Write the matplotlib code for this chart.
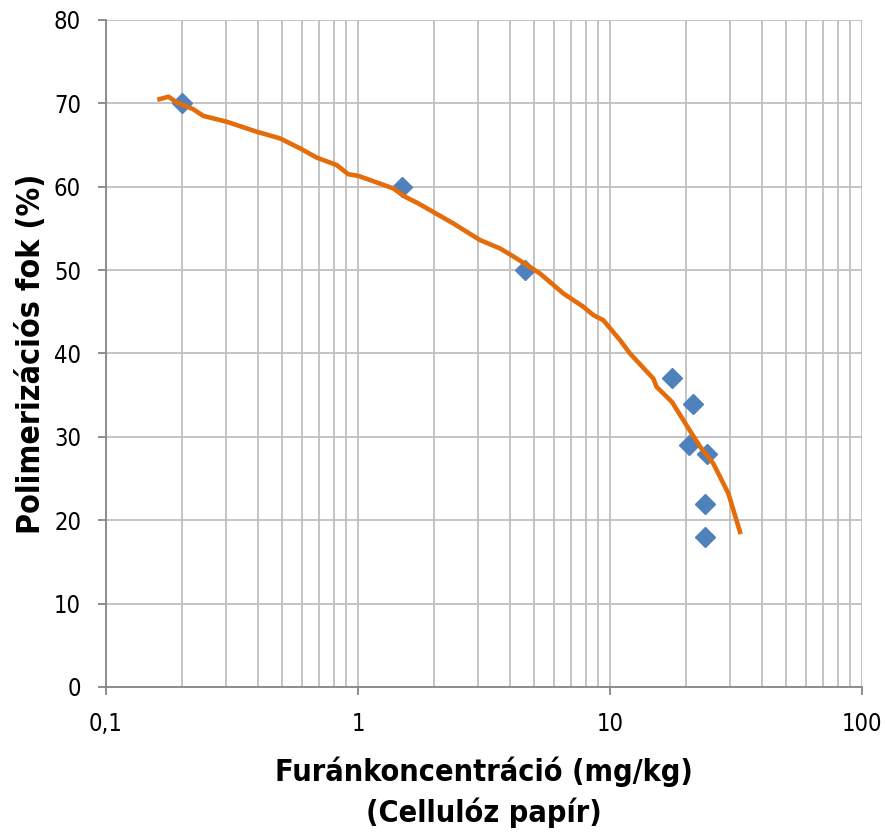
import numpy as np
import matplotlib.pyplot as plt
from matplotlib.ticker import FixedLocator, FuncFormatter, NullFormatter

# measured points (blue diamonds)
meas_x = [0.2, 1.5, 4.6, 17.7, 21.3, 20.6, 24.3, 23.8, 23.9]
meas_y = [70, 60, 50, 37, 34, 29, 28, 22, 18]

# trend curve (orange)
curve_x = [0.163, 0.177, 0.191, 0.222, 0.243, 0.301, 0.396, 0.49, 0.589, 0.685,
           0.823, 0.915, 1.003, 1.381, 1.537, 1.735, 2.388, 3.05, 3.66, 4.26,
           5.27, 6.53, 7.84, 8.59, 9.40, 10.96, 12.0, 14.85, 15.3, 17.6,
           20.5, 22.8, 25.7, 29.5, 32.8]
curve_y = [70.5, 70.8, 70.1, 69.3, 68.5, 67.8, 66.6, 65.8, 64.6, 63.5,
           62.6, 61.5, 61.3, 59.8, 58.8, 58.0, 55.6, 53.6, 52.6, 51.4,
           49.6, 47.2, 45.6, 44.6, 44.0, 41.6, 40.0, 37.0, 36.0, 34.2,
           31.0, 28.8, 26.8, 23.2, 18.6]

xlabel = 'Furánkoncentráció (mg/kg)\n(Cellulóz papír)'
ylabel = 'Polimerizációs fok (%)'

plt.rcParams['font.family'] = ['DejaVu Sans']
plt.rcParams['font.stretch'] = 'condensed'

fig = plt.figure(figsize=(8.85, 8.33), dpi=100)
ax = fig.add_axes([0.1198, 0.1753, 0.974 - 0.1198, 0.976 - 0.1753])

ax.set_xscale('log')
ax.set_xlim(0.1, 100)
ax.set_ylim(0, 80)

grid_c = '#bfbfbf'
ax.xaxis.set_major_locator(FixedLocator([0.1, 1, 10, 100]))
minors = [m * d for d in [0.1, 1, 10] for m in range(2, 10)]
ax.xaxis.set_minor_locator(FixedLocator(minors))
ax.xaxis.set_minor_formatter(NullFormatter())
ax.xaxis.set_major_formatter(FuncFormatter(lambda v, p: ('%g' % v).replace('.', ',')))
ax.set_yticks(range(0, 81, 10))

ax.grid(True, which='both', axis='x', color=grid_c, lw=1.3)
ax.grid(True, which='major', axis='y', color=grid_c, lw=1.3)
ax.set_axisbelow(True)

for s in ['top', 'right']:
    ax.spines[s].set_visible(False)
for s in ['left', 'bottom']:
    ax.spines[s].set_color('#868686')
    ax.spines[s].set_linewidth(1.3)

ax.tick_params(which='major', length=6, color='#868686', width=1.3,
               labelsize=17, pad=12)
ax.tick_params(which='minor', length=0)

ax.plot(curve_x, curve_y, color='#E46C0A', lw=3.3, zorder=3)
ax.plot(meas_x, meas_y, linestyle='none', marker='D', markersize=10.5,
        color='#4F81BD', zorder=2)

ax.set_xlabel(xlabel, fontsize=22, fontweight='bold', labelpad=15, linespacing=1.42)
ax.set_ylabel(ylabel, fontsize=23, fontweight='bold', labelpad=5)

fig.savefig('out.png', dpi=100)
